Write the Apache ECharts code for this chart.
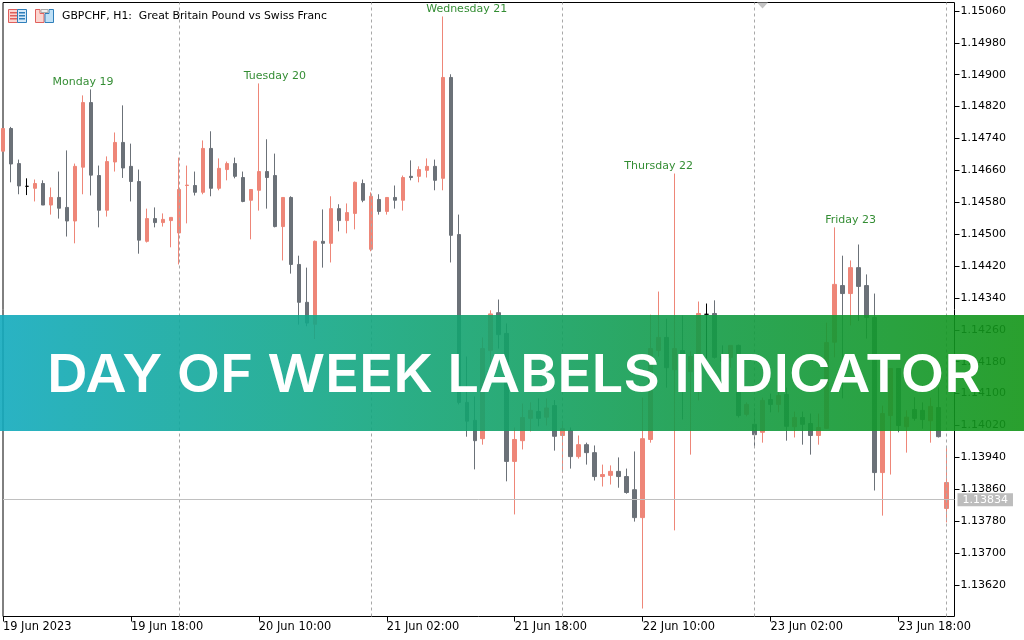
<!DOCTYPE html>
<html>
<head>
<meta charset="utf-8">
<title>GBPCHF H1</title>
<style>
html,body{margin:0;padding:0;background:#fff;}
#chart{width:1024px;height:640px;}
</style>
<script src="https://cdn.jsdelivr.net/npm/echarts@6/dist/echarts.min.js"></script>
</head>
<body>
<div id="chart"></div>
<script>
// hourly candles, one entry per bar
var opens=[1.14708,1.14765,1.14677,1.14620,1.14615,1.14627,1.14573,1.14592,1.14567,1.14533,
1.14668,1.14830,1.14647,1.14560,1.14681,1.14730,1.14670,1.14632,1.14482,1.14539,
1.14529,1.14534,1.14503,1.14622,1.14622,1.14605,1.14715,1.14615,1.14662,1.14677,
1.14642,1.14585,1.14610,1.14657,1.14647,1.14519,1.14592,1.14424,1.14329,1.14274,
1.14482,1.14477,1.14564,1.14534,1.14552,1.14627,1.14462,1.14587,1.14557,1.14592,
1.14585,1.14645,1.14645,1.14660,1.14670,1.14640,1.14893,1.14499,1.14078,1.14033,
1.13987,1.14208,1.14303,1.14251,1.13930,1.13982,1.14038,1.14055,1.14041,1.14070,
1.13995,1.14007,1.13942,1.13972,1.13952,1.13892,1.13895,1.13905,1.13892,1.13859,
1.13789,1.13985,1.14208,1.14241,1.14160,1.14208,1.14155,1.14196,1.14299,1.14301,
1.14193,1.14191,1.14221,1.14048,1.14023,1.14003,1.14085,1.14073,1.14098,1.14017,
1.14040,1.14025,1.13995,1.14013,1.14229,1.14371,1.14351,1.14416,1.14371,1.14291,
1.13902,1.14045,1.14163,1.14017,1.14060,1.14058,1.14032,1.14065,1.13812];
var closes=[1.14765,1.14676,1.14621,1.14620,1.14627,1.14573,1.14592,1.14565,1.14533,1.14670,
1.14830,1.14648,1.14560,1.14682,1.14730,1.14666,1.14632,1.14485,1.14539,1.14529,
1.14537,1.14542,1.14612,1.14623,1.14605,1.14715,1.14615,1.14665,1.14677,1.14645,
1.14582,1.14612,1.14657,1.14642,1.14519,1.14592,1.14424,1.14329,1.14277,1.14482,
1.14477,1.14564,1.14534,1.14554,1.14630,1.14585,1.14595,1.14557,1.14592,1.14585,
1.14642,1.14642,1.14662,1.14670,1.14635,1.14893,1.14497,1.14078,1.14031,1.13982,
1.14213,1.14300,1.14248,1.13930,1.13985,1.14040,1.14058,1.14038,1.14064,1.13993,
1.14012,1.13942,1.13972,1.13952,1.13892,1.13897,1.13905,1.13892,1.13852,1.13789,
1.13987,1.14213,1.14241,1.14165,1.14213,1.14150,1.14193,1.14301,1.14299,1.14191,
1.14181,1.14221,1.14045,1.14073,1.13997,1.14083,1.14073,1.14095,1.14018,1.14040,
1.14023,1.13995,1.14015,1.14228,1.14374,1.14351,1.14416,1.14369,1.14291,1.13902,
1.14050,1.14163,1.14020,1.14041,1.14038,1.14035,1.14068,1.13992,1.13877];
var lows=[1.14708,1.14630,1.14600,1.14598,1.14582,1.14573,1.14549,1.14539,1.14494,1.14477,
1.14600,1.14597,1.14517,1.14544,1.14657,1.14641,1.14582,1.14451,1.14479,1.14517,
1.14519,1.14467,1.14424,1.14527,1.14597,1.14600,1.14595,1.14610,1.14635,1.14640,
1.14580,1.14487,1.14559,1.14564,1.14517,1.14434,1.14401,1.14273,1.14269,1.14237,
1.14416,1.14429,1.14507,1.14502,1.14512,1.14580,1.14457,1.14549,1.14549,1.14564,
1.14559,1.14635,1.14630,1.14642,1.14610,1.14610,1.14429,1.14073,1.13992,1.13910,
1.13972,1.14171,1.14213,1.13880,1.13797,1.13960,1.14005,1.14018,1.14020,1.13957,
1.13902,1.13912,1.13937,1.13922,1.13882,1.13867,1.13872,1.13864,1.13849,1.13779,
1.13561,1.13977,1.14193,1.14115,1.13757,1.14035,1.13947,1.14083,1.14188,1.14188,
1.14181,1.14165,1.14040,1.14043,1.13965,1.13977,1.14053,1.14053,1.13982,1.13990,
1.13972,1.13947,1.13972,1.14012,1.14191,1.14088,1.14271,1.14282,1.14238,1.13857,
1.13794,1.13897,1.14003,1.13952,1.14032,1.14012,1.13977,1.13990,1.13777];
var highs=[1.14765,1.14769,1.14687,1.14640,1.14637,1.14635,1.14617,1.14657,1.14710,1.14677,
1.14848,1.14863,1.14672,1.14695,1.14755,1.14823,1.14727,1.14662,1.14564,1.14567,
1.14552,1.14542,1.14692,1.14672,1.14657,1.14735,1.14758,1.14690,1.14682,1.14692,
1.14657,1.14612,1.14878,1.14738,1.14702,1.14592,1.14595,1.14446,1.14416,1.14484,
1.14562,1.14595,1.14575,1.14577,1.14632,1.14637,1.14605,1.14600,1.14592,1.14622,
1.14647,1.14685,1.14670,1.14690,1.14687,1.15046,1.14901,1.14549,1.14193,1.14093,
1.14241,1.14309,1.14336,1.14276,1.14015,1.14075,1.14078,1.14088,1.14088,1.14084,
1.14032,1.14015,1.13995,1.13977,1.13970,1.13922,1.13920,1.13940,1.13912,1.13955,
1.14090,1.14298,1.14356,1.14288,1.14652,1.14296,1.14206,1.14331,1.14326,1.14334,
1.14221,1.14221,1.14223,1.14078,1.14063,1.14090,1.14100,1.14115,1.14115,1.14055,
1.14055,1.14050,1.14050,1.14278,1.14517,1.14446,1.14434,1.14474,1.14399,1.14351,
1.14070,1.14163,1.14163,1.14058,1.14091,1.14078,1.14090,1.14116,1.13965];

var priceTicks=[1.15060,1.14980,1.14900,1.14820,1.14740,1.14660,1.14580,1.14500,1.14420,1.14340,
1.14260,1.14180,1.14100,1.14020,1.13940,1.13860,1.13780,1.13700,1.13620];
var timeTickBars=[0,16,32,48,64,80,96,112];
var timeTickLabels=['19 Jun 2023','19 Jun 18:00','20 Jun 10:00','21 Jun 02:00','21 Jun 18:00','22 Jun 10:00','23 Jun 02:00','23 Jun 18:00'];
var separatorBars=[22,46,70,94,118];
var dayNames=['Monday 19','Tuesday 20','Wednesday 21','Thursday 22','Friday 23'];
var dayBars=[10,34,58,82,106];
var dayPrices=[1.14881,1.14896,1.15064,1.14670,1.14534];
var bidPrice=1.13834;
var titleText='GBPCHF, H1:  Great Britain Pound vs Swiss Franc';
var bannerText='DAY OF WEEK LABELS INDICATOR';

var upColor='#ee8678';
var downColor='#6b7178';
var chartFont='"DejaVu Sans"';

var candles=[];
for(var i=0;i<opens.length;i++){
	candles.push([i,opens[i],closes[i],lows[i],highs[i]]);
}
var dayPoints=[];
for(var d=0;d<dayBars.length;d++){
	dayPoints.push({value:[dayBars[d],dayPrices[d]],label:{formatter:dayNames[d]}});
}
var separatorLines=[];
for(var s=0;s<separatorBars.length;s++){
	separatorLines.push({xAxis:separatorBars[s]});
}

// small toolbar icons in the corner
var iconGraphics=[
	{type:'rect',shape:{x:8.5,y:9.5,width:9,height:13},style:{fill:'#fbd5d0',stroke:'#e0605c',lineWidth:1}},
	{type:'rect',shape:{x:17.5,y:9.5,width:9,height:13},style:{fill:'#d6e9f8',stroke:'#2f7fba',lineWidth:1}},
	{type:'rect',shape:{x:10,y:12,width:7,height:1.5},style:{fill:'#e0605c'}},
	{type:'rect',shape:{x:10,y:15,width:7,height:1.5},style:{fill:'#e0605c'}},
	{type:'rect',shape:{x:10,y:18,width:7,height:1.5},style:{fill:'#e0605c'}},
	{type:'rect',shape:{x:19,y:12,width:6,height:1.5},style:{fill:'#2f7fba'}},
	{type:'rect',shape:{x:19,y:15,width:6,height:1.5},style:{fill:'#2f7fba'}},
	{type:'rect',shape:{x:19,y:18,width:6,height:1.5},style:{fill:'#2f7fba'}},
	{type:'polygon',shape:{points:[[35.5,9.5],[40,9.5],[40,13.5],[44,13.5],[44,22.5],[35.5,22.5]]},style:{fill:'#fbd5d0',stroke:'#e0605c',lineWidth:1}},
	{type:'polygon',shape:{points:[[45,13.5],[49,13.5],[49,9.5],[53.5,9.5],[53.5,22.5],[45,22.5]]},style:{fill:'#bfe0f6',stroke:'#2f7fba',lineWidth:1}},
	{type:'rect',shape:{x:41,y:9.5,width:7,height:3},style:{fill:'#eee',stroke:'#aaa',lineWidth:1}}
];

var chart=echarts.init(document.getElementById('chart'),null,{renderer:'canvas'});
var option={
	animation:false,
	backgroundColor:'#fff',
	grid:{left:2.5,right:69.5,top:2.5,bottom:23.5,show:true,borderColor:'#000',borderWidth:1,backgroundColor:'#fff'},
	xAxis:{
		type:'value',min:0,max:119,
		axisLine:{show:false,onZero:false},splitLine:{show:false},
		axisTick:{show:true,length:5,lineStyle:{color:'#000'},customValues:timeTickBars},
		axisLabel:{show:true,customValues:timeTickBars,align:'left',margin:5,color:'#000',fontFamily:chartFont,fontSize:11.4,
			hideOverlap:false,showMinLabel:true,showMaxLabel:true,
			formatter:function(v){return timeTickLabels[timeTickBars.indexOf(v)];}}
	},
	yAxis:{
		type:'value',position:'right',scale:true,min:1.13541,max:1.15081,
		axisLine:{show:false,onZero:false},splitLine:{show:false},
		axisTick:{show:true,length:5,lineStyle:{color:'#000'},customValues:priceTicks},
		axisLabel:{show:true,customValues:priceTicks,margin:6,color:'#000',fontFamily:chartFont,fontSize:11,
			formatter:function(v){return v.toFixed(5);}}
	},
	graphic:[
		{type:'group',children:iconGraphics},
		{type:'text',x:62,y:16,style:{text:titleText,fill:'#000',font:'10.85px '+chartFont,textVerticalAlign:'middle'}},
		{type:'polygon',shape:{points:[[757,2.5],[768,2.5],[762.5,8.5]]},style:{fill:'#c4c4c4'}},
		{type:'rect',z:100,shape:{x:0,y:315,width:1024,height:116},style:{opacity:0.9,
			fill:new echarts.graphic.LinearGradient(0,0,1,0,[
				{offset:0,color:'#12aabd'},
				{offset:0.33,color:'#13a784'},
				{offset:0.66,color:'#139c4b'},
				{offset:1,color:'#129517'}
			])}},
		{type:'text',z:101,x:514,y:376,scaleX:1.085,style:{text:bannerText,fill:'#fff',font:'600 52px Inter',textAlign:'center',textVerticalAlign:'middle'}}
	],
	series:[
		{
			type:'candlestick',
			barWidth:4,
			encode:{x:0,y:[1,2,3,4]},
			data:candles,
			itemStyle:{color:upColor,color0:downColor,borderColor:upColor,borderColor0:downColor,borderColorDoji:'#000',borderWidth:1},
			markLine:{silent:true,symbol:'none',animation:false,label:{show:false},
				lineStyle:{color:'#a8a8a8',type:[3,3],width:1},
				data:separatorLines}
		},
		{
			type:'scatter',
			symbolSize:1,
			itemStyle:{color:'rgba(0,0,0,0)'},
			data:dayPoints,
			label:{show:true,position:'inside',color:'#007000',textBorderWidth:0,fontFamily:chartFont,fontSize:11},
			markLine:{silent:true,symbol:'none',animation:false,precision:5,
				lineStyle:{color:'#c0c0c0',type:'solid',width:1},
				label:{show:true,position:'end',formatter:bidPrice.toFixed(5),color:'#fff',backgroundColor:'#bdbdbd',
					fontFamily:chartFont,fontSize:11,padding:[1,5,1,5],distance:3},
				data:[{yAxis:bidPrice}]}
		}
	]
};
chart.setOption(option);
window.onresize=chart.resize;
</script>
</body>
</html>
